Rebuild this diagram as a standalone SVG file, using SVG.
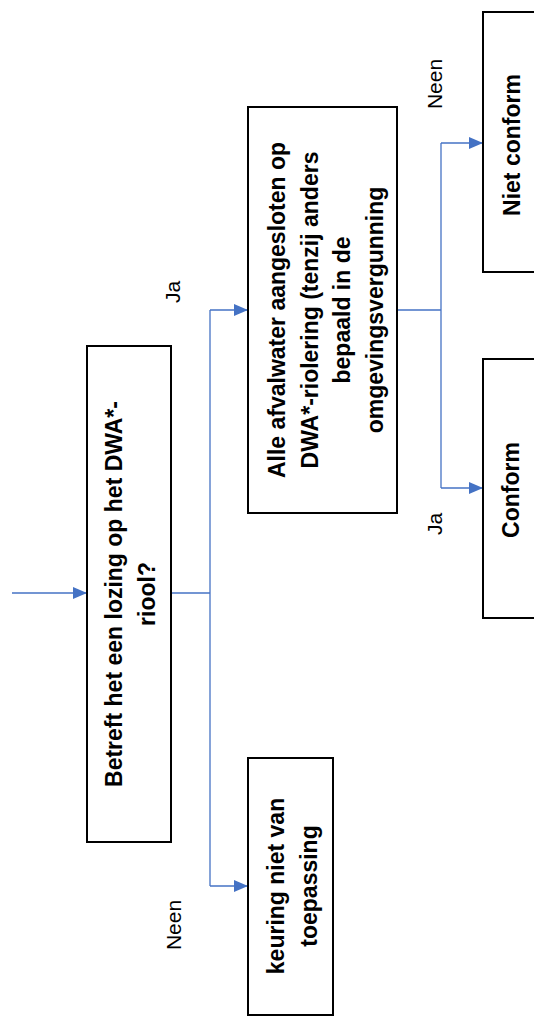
<svg xmlns="http://www.w3.org/2000/svg" width="534" height="1017" viewBox="0 0 534 1017">
<defs>
<style>
.box{fill:#fff;stroke:#000;stroke-width:2}
.t{font-family:"Liberation Sans",Arial,sans-serif;font-weight:bold;font-size:23px;text-anchor:middle;fill:#000}
.lbl{font-family:"Liberation Sans",Arial,sans-serif;font-size:21px;text-anchor:middle;fill:#000}
.c{fill:none;stroke:#4472C4;stroke-width:1.3}
</style>
<marker id="ah" markerUnits="userSpaceOnUse" markerWidth="14" markerHeight="12" refX="14" refY="6" orient="auto">
<path d="M0,0 L14,6 L0,12 z" fill="#4472C4"/>
</marker>
</defs>
<rect width="534" height="1017" fill="#fff"/>
<g id="connectors">
<path class="c" d="M12,593 H87" marker-end="url(#ah)"/>
<path class="c" d="M171,593 H210"/>
<path class="c" d="M210,310 V886"/>
<path class="c" d="M210,310 H248" marker-end="url(#ah)"/>
<path class="c" d="M210,886 H248" marker-end="url(#ah)"/>
<path class="c" d="M397,310 H441"/>
<path class="c" d="M441,143 V488"/>
<path class="c" d="M441,143 H483" marker-end="url(#ah)"/>
<path class="c" d="M441,488 H483" marker-end="url(#ah)"/>
</g>
<g id="labels">
<text class="lbl" transform="translate(180,292) rotate(-90)">Ja</text>
<text class="lbl" transform="translate(181,925) rotate(-90)">Neen</text>
<text class="lbl" transform="translate(442,84) rotate(-90)">Neen</text>
<text class="lbl" transform="translate(442,524) rotate(-90)">Ja</text>
</g>
<g id="node-betreft">
<rect class="box" x="87" y="346" width="84" height="496"/>
<g transform="rotate(-90)">
<text class="t" x="-594" y="122">Betreft het een lozing op het DWA*-</text>
<text class="t" x="-594" y="155">riool?</text>
</g>
</g>
<g id="node-keuring">
<rect class="box" x="248" y="758" width="85" height="257"/>
<g transform="rotate(-90)">
<text class="t" x="-886" y="284">keuring niet van</text>
<text class="t" x="-886" y="317">toepassing</text>
</g>
</g>
<g id="node-afvalwater">
<rect class="box" x="248" y="107" width="149" height="406"/>
<g transform="rotate(-90)">
<text class="t" x="-310" y="285">Alle afvalwater aangesloten op</text>
<text class="t" x="-310" y="317.5">DWA*-riolering (tenzij anders</text>
<text class="t" x="-310" y="350">bepaald in de</text>
<text class="t" x="-310" y="382.5">omgevingsvergunning</text>
</g>
</g>
<g id="node-nietconform">
<rect class="box" x="483" y="12" width="70" height="260"/>
<text class="t" transform="translate(520,145) rotate(-90)">Niet conform</text>
</g>
<g id="node-conform">
<rect class="box" x="483" y="359" width="70" height="259"/>
<text class="t" transform="translate(519,490) rotate(-90)">Conform</text>
</g>
</svg>
